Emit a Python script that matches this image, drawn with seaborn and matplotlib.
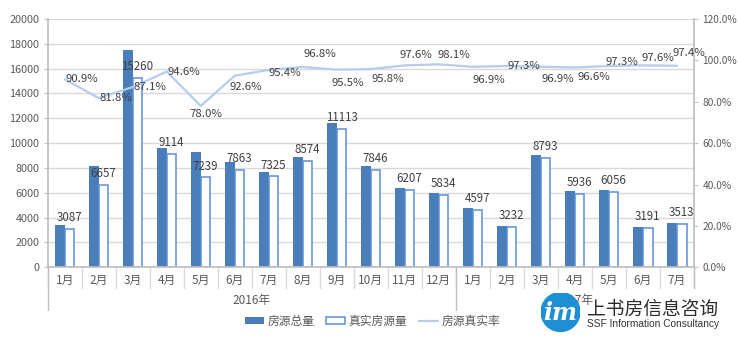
import matplotlib
matplotlib.use("Agg")
import matplotlib.pyplot as plt
import matplotlib.transforms as mtransforms
from matplotlib.patches import Patch, Circle
from matplotlib.lines import Line2D
from matplotlib.ticker import FuncFormatter, MultipleLocator
import seaborn as sns
import pandas as pd

# Monthly listing data, Jan 2016 - Jul 2017
months = ["1月", "2月", "3月", "4月", "5月", "6月", "7月", "8月", "9月", "10月", "11月", "12月",
          "1月", "2月", "3月", "4月", "5月", "6月", "7月"]
years = ["2016年", "2017年"]
year_sizes = [12, 7]
total_listings = [3396, 8138, 17520, 9634, 9281, 8491, 7678, 8857, 11637, 8190, 6360, 5947,
                  4744, 3322, 9074, 6145, 6224, 3269, 3607]
real_listings = [3087, 6657, 15260, 9114, 7239, 7863, 7325, 8574, 11113, 7846, 6207, 5834,
                 4597, 3232, 8793, 5936, 6056, 3191, 3513]
real_rate = [90.9, 81.8, 87.1, 94.6, 78.0, 92.6, 95.4, 96.8, 95.5, 95.8, 97.6, 98.1,
             96.9, 97.3, 96.9, 96.6, 97.3, 97.6, 97.4]
series_names = ["房源总量", "真实房源量", "房源真实率"]

# label offsets (pixels, right/down) for the rate labels
rate_label_offsets = [(17, 0), (17, 0), (17, 0), (17, 0), (5, 8), (11, 11), (16, 3), (17, -13),
                      (11, 13), (17, 10), (11, -10), (15, -9), (16, 13), (17, 0), (17, 12),
                      (19, 10), (13, -4), (15, -7), (12, -13)]

DARK = "#4A7EBB"
EDGE = "#5B8EDC"
LINE = "#B4CCEE"
GRID = "#D9D9D9"
AXIS = "#BFBFBF"
TEXT = "#595959"

sns.set_theme(style="white")
plt.rcParams["font.family"] = ["Liberation Sans Narrow", "Noto Sans CJK SC", "DejaVu Sans"]

fig = plt.figure(figsize=(7.38, 3.40), dpi=100)
ax = fig.add_axes([0.0646, 0.2138, 0.8758, 0.7303])

n = len(months)
pos = list(range(n))
df = pd.DataFrame({
    "pos": pos * 2,
    "value": total_listings + real_listings,
    "series": [series_names[0]] * n + [series_names[1]] * n,
})
sns.barplot(data=df, x="pos", y="value", hue="series", palette=[DARK, "white"],
            width=0.56, saturation=1, legend=False, ax=ax)
for bar in ax.containers[0]:
    bar.set_facecolor(DARK)
    bar.set_edgecolor("none")
for bar in ax.containers[1]:
    bar.set_facecolor("white")
    bar.set_edgecolor(EDGE)
    bar.set_linewidth(1.1)

ax.set_ylim(0, 20000)
ax.set_xlim(-0.5, n - 0.5)
ax.yaxis.set_major_locator(MultipleLocator(2000))
ax.yaxis.grid(True, color=GRID, linewidth=1)
ax.set_axisbelow(True)
ax.set_xlabel("")
ax.set_ylabel("")
for s in ["top", "right"]:
    ax.spines[s].set_visible(False)
ax.spines["left"].set_color(AXIS)
ax.spines["bottom"].set_color(AXIS)
ax.tick_params(axis="y", direction="out", length=3, width=0.8, color=AXIS,
               labelsize=7.8, labelcolor=TEXT, pad=3, left=True)
ax.set_xticks(pos, months)
ax.tick_params(axis="x", length=0, pad=5, labelsize=8.5, labelcolor=TEXT)

# real-listing value labels
for i, v in enumerate(real_listings):
    ax.annotate(f"{v}", (i + 0.14, v), xytext=(0, 3.5), textcoords="offset points",
                ha="center", va="bottom", fontsize=8.3, color="#404040")

# category / year separators below the axis
trans = mtransforms.blended_transform_factory(ax.transData, ax.transAxes)
for k in range(n + 1):
    ax.plot([k - 0.5, k - 0.5], [0, -0.083], transform=trans, color=GRID, lw=1, clip_on=False)
start = 0
for yname, size in zip(years, year_sizes):
    ax.plot([start - 0.5, start - 0.5], [0, -0.172], transform=trans, color=AXIS, lw=1,
            clip_on=False)
    ax.text(start + (size - 1) / 2, -0.132, yname, transform=trans, ha="center", va="center",
            fontsize=8.5, color=TEXT)
    start += size

# rate line on secondary axis
ax2 = ax.twinx()
sns.lineplot(x=pos, y=real_rate, ax=ax2, color=LINE, linewidth=1.6)
ax2.set_ylim(0, 120)
ax2.set_xlim(-0.5, n - 0.5)
ax2.yaxis.set_major_locator(MultipleLocator(20))
ax2.yaxis.set_major_formatter(FuncFormatter(lambda v, p: f"{v:.1f}%"))
for s in ["top", "left", "bottom"]:
    ax2.spines[s].set_visible(False)
ax2.spines["right"].set_color(AXIS)
ax2.tick_params(axis="y", direction="out", length=3, width=0.8, color=AXIS,
                labelsize=7.3, labelcolor=TEXT, pad=3, right=True)
ax2.set_ylabel("")
ax2.grid(False)
ax2.plot([n - 0.5, n - 0.5], [0, -0.083], transform=mtransforms.blended_transform_factory(
    ax2.transData, ax2.transAxes), color=AXIS, lw=1, clip_on=False)

for i, r in enumerate(real_rate):
    dx, dy = rate_label_offsets[i]
    ax2.annotate(f"{r:.1f}%", (i, r), xytext=(dx * 0.72, -dy * 0.72), textcoords="offset points",
                 ha="center", va="center", fontsize=8.2, color="#404040")

# legend
handles = [Patch(facecolor=DARK, edgecolor="none"),
           Patch(facecolor="white", edgecolor=EDGE, linewidth=1.1),
           Line2D([0], [0], color=LINE, linewidth=1.6)]
fig.legend(handles, series_names, loc="center", bbox_to_anchor=(0.505, 0.056), ncol=3,
           frameon=False, fontsize=8.5, handlelength=1.6, handleheight=0.5,
           columnspacing=1.0, handletextpad=0.3, labelcolor=TEXT)

# company mark
lax = fig.add_axes([541 / 738, 8 / 340, 39 / 738, 40 / 340])
lax.set_xlim(-1, 1)
lax.set_ylim(-1, 1)
lax.set_aspect("equal")
lax.axis("off")
lax.add_patch(Circle((0, 0), 1, color="#1E8FD5"))
lax.text(0, -0.05, "im", color="white", fontsize=17, fontstyle="italic", fontweight="bold",
         family="DejaVu Serif", ha="center", va="center")
fig.text(587 / 738, 1 - 309 / 340, "上书房信息咨询", fontsize=13.5, family="Noto Sans CJK SC",
         color="#2B2B2B", ha="left", va="center")
fig.text(587 / 738, 1 - 324 / 340, "SSF Information Consultancy", fontsize=7.3,
         family="Liberation Sans", color="#333333", ha="left", va="center")

fig.savefig("out.png", dpi=100)
